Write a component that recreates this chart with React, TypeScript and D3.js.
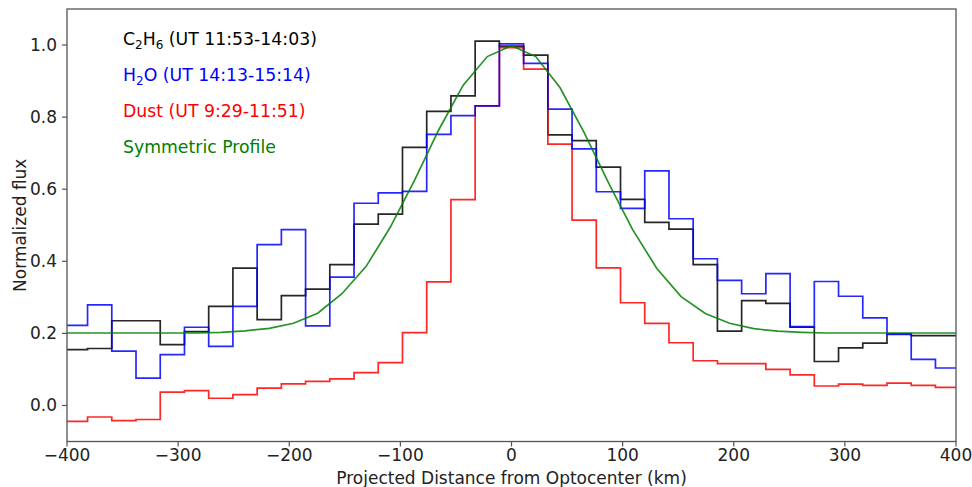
import React from 'react';
import * as d3 from 'd3';

// bin centres (km) of the projected distance profile
const binCenters = [
  -392.4, -370.6, -348.8, -327.0, -305.2, -283.4, -261.6, -239.8, -218.0, -196.2,
  -174.4, -152.6, -130.8, -109.0, -87.2, -65.4, -43.6, -21.8, 0, 21.8,
  43.6, 65.4, 87.2, 109.0, 130.8, 152.6, 174.4, 196.2, 218.0, 239.8,
  261.6, 283.4, 305.2, 327.0, 348.8, 370.6, 392.4,
];

const c2h6 = [
  0.155, 0.158, 0.235, 0.235, 0.169, 0.205, 0.275, 0.381, 0.238, 0.305,
  0.323, 0.391, 0.503, 0.531, 0.716, 0.816, 0.859, 1.011, 0.997, 0.972,
  0.751, 0.735, 0.661, 0.572, 0.508, 0.489, 0.391, 0.206, 0.291, 0.283,
  0.217, 0.122, 0.160, 0.173, 0.199, 0.194, 0.194,
];

const h2o = [
  0.222, 0.279, 0.151, 0.076, 0.141, 0.217, 0.164, 0.275, 0.446, 0.488,
  0.221, 0.356, 0.561, 0.590, 0.594, 0.752, 0.804, 0.831, 1.003, 0.949,
  0.822, 0.712, 0.593, 0.547, 0.651, 0.518, 0.407, 0.347, 0.310, 0.366,
  0.219, 0.344, 0.303, 0.243, 0.197, 0.128, 0.104,
];

const dust = [
  -0.044, -0.032, -0.042, -0.039, 0.037, 0.041, 0.020, 0.030, 0.048, 0.060,
  0.067, 0.074, 0.091, 0.119, 0.202, 0.343, 0.571, 0.831, 0.993, 0.933,
  0.725, 0.514, 0.382, 0.285, 0.228, 0.174, 0.124, 0.116, 0.116, 0.100,
  0.085, 0.054, 0.059, 0.056, 0.062, 0.056, 0.050,
];

const symmetric = [
  0.201, 0.201, 0.201, 0.201, 0.201, 0.201, 0.203, 0.207, 0.214, 0.228,
  0.256, 0.310, 0.386, 0.495, 0.625, 0.765, 0.888, 0.968, 0.998, 0.968,
  0.882, 0.757, 0.618, 0.488, 0.380, 0.302, 0.255, 0.228, 0.213, 0.206,
  0.203, 0.201, 0.201, 0.201, 0.201, 0.201, 0.201,
];

const xTicks = [-400, -300, -200, -100, 0, 100, 200, 300, 400];
const yTicks = [0.0, 0.2, 0.4, 0.6, 0.8, 1.0];

const W = 972;
const H = 487;
const margin = { left: 67, right: 16, top: 9, bottom: 45.5 };
const FONT = 'DejaVu Sans, sans-serif';

const fmtX = (d: number) => (d < 0 ? `\u2212${Math.abs(d)}` : `${d}`);

export default function App() {
  const x = d3.scaleLinear().domain([-400, 400]).range([margin.left, W - margin.right]);
  const y = d3.scaleLinear().domain([-0.1, 1.1]).range([H - margin.bottom, margin.top]);

  // pad both ends out to the axis limits
  const toPoints = (vals: number[]) => [
    [-400, vals[0]],
    ...binCenters.map((c, i) => [c, vals[i]]),
    [400, vals[vals.length - 1]],
  ] as [number, number][];

  const stepLine = d3.line<[number, number]>()
    .x(d => x(d[0]))
    .y(d => y(d[1]))
    .curve(d3.curveStep);

  const smoothLine = d3.line<[number, number]>()
    .x(d => x(d[0]))
    .y(d => y(d[1]));

  const series = [
    { vals: c2h6, color: '#000000' },
    { vals: dust, color: '#ff0000' },
    { vals: h2o, color: '#0000ff' },
  ];

  const x0 = x.range()[0], x1 = x.range()[1];
  const y0 = y.range()[0], y1 = y.range()[1];

  return (
    <svg width={W} height={H} style={{ position: 'absolute', left: 0, top: 0, background: '#fff' }}
      fontFamily={FONT}>
      <defs>
        <clipPath id="plot">
          <rect x={x0} y={y1} width={x1 - x0} height={y0 - y1} />
        </clipPath>
      </defs>

      <g clipPath="url(#plot)">
        {series.map((s, i) => (
          <path key={i} d={stepLine(toPoints(s.vals)) || ''} fill="none"
            stroke={s.color} strokeWidth={1.7} opacity={0.85} />
        ))}
        <path d={smoothLine(toPoints(symmetric)) || ''} fill="none"
          stroke="#008000" strokeWidth={1.7} opacity={0.85} />
      </g>

      {/* frame */}
      <rect x={x0} y={y1} width={x1 - x0} height={y0 - y1} fill="none" stroke="#555" strokeWidth={1.3} />

      {/* x axis */}
      {xTicks.map(t => (
        <g key={t} transform={`translate(${x(t)},${y0})`}>
          <line y2={5} stroke="#555" strokeWidth={1.2} />
          <text y={19} textAnchor="middle" fontSize={17} fill="#222">{fmtX(t)}</text>
        </g>
      ))}
      <text x={(x0 + x1) / 2} y={484} textAnchor="middle" fontSize={17} fill="#222">
        Projected Distance from Optocenter (km)
      </text>

      {/* y axis */}
      {yTicks.map(t => (
        <g key={t} transform={`translate(${x0},${y(t)})`}>
          <line x2={-5} stroke="#555" strokeWidth={1.2} />
          <text x={-10} y={6} textAnchor="end" fontSize={17} fill="#222">{t.toFixed(1)}</text>
        </g>
      ))}
      <text transform={`translate(26,${(y0 + y1) / 2}) rotate(-90)`} textAnchor="middle"
        fontSize={17} fill="#222">
        Normalized flux
      </text>

      {/* legend text */}
      <g fontSize={17.3}>
        <text x={123} y={45} fill="#000">
          C<tspan fontSize={12} dy={4}>2</tspan><tspan dy={-4}>H</tspan><tspan fontSize={12} dy={4}>6</tspan>
          <tspan dy={-4}> (UT 11:53-14:03)</tspan>
        </text>
        <text x={123} y={81} fill="#0000ff">
          H<tspan fontSize={12} dy={4}>2</tspan><tspan dy={-4}>O (UT 14:13-15:14)</tspan>
        </text>
        <text x={123} y={117} fill="#ff0000">Dust (UT 9:29-11:51)</text>
        <text x={123} y={153} fill="#008000">Symmetric Profile</text>
      </g>
    </svg>
  );
}
